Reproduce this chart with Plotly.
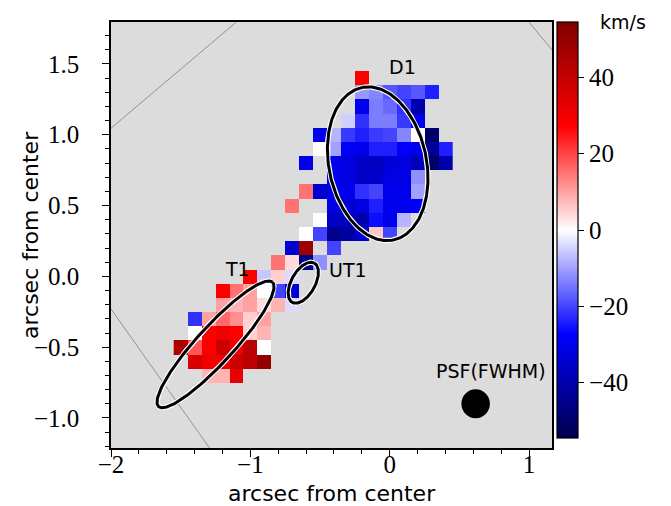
import numpy as np
import plotly.graph_objects as go

# ---------------- data ----------------
cols = [-1.5, -1.4, -1.3, -1.2, -1.1, -1.0, -0.9, -0.8, -0.7, -0.6, -0.5,
        -0.4, -0.3, -0.2, -0.1, 0.0, 0.1, 0.2, 0.3, 0.4]
rows = [1.4, 1.3, 1.2, 1.1, 1.0, 0.9, 0.8, 0.7, 0.6, 0.5, 0.4, 0.3, 0.2,
        0.1, 0.0, -0.1, -0.2, -0.3, -0.4, -0.5, -0.6, -0.7]
N = None
#           -1.5 -1.4 -1.3 -1.2 -1.1 -1.0 -0.9 -0.8 -0.7 -0.6 -0.5 -0.4 -0.3 -0.2 -0.1  0.0  0.1  0.2  0.3  0.4
v_r1p4  = [N, N, N, N, N, N, N, N, N, N, N, N, N, 28, N, N, N, N, N, N]
v_r1p3  = [N, N, N, N, N, N, N, N, N, N, N, N, N, -11, -13, -18, -20, -18, -24, N]
v_r1p2  = [N, N, N, N, N, N, N, N, N, N, N, N, N, -30, -14, -16, -22, -40, N, N]
v_r1p1  = [N, N, N, N, N, N, N, N, N, N, N, N, -5, -22, -14, -14, -21, -30, N, N]
v_r1p0  = [N, N, N, N, N, N, N, N, N, N, -30, -8, -21, -24, -21, -20, -13, 0, -50, N]
v_r0p9  = [N, N, N, N, N, N, N, N, N, N, 0, -10, -29, -30, -24, -24, -28, -30, -44, -24]
v_r0p8  = [N, N, N, N, N, N, N, N, N, -30, N, -30, -32, -36, -37, -33, -32, -38, -50, -40]
v_r0p7  = [N, N, N, N, N, N, N, N, N, N, N, -30, -32, -36, -35, -32, -31, -12, N, N]
v_r0p6  = [N, N, N, N, N, N, N, N, N, 15, -34, -31, -30, -22, -20, -30, -30, -10, N, N]
v_r0p5  = [N, N, N, N, N, N, N, N, 15, N, N, -32, -34, -32, -24, -30, -30, -28, N, N]
v_r0p4  = [N, N, N, N, N, N, N, N, N, N, 0, -36, -37, -40, -26, -30, -8, N, N, N]
v_r0p3  = [N, N, N, N, N, N, N, N, N, 0, -20, -45, -42, -34, 6, -20, N, N, N, N]
v_r0p2  = [N, N, N, N, N, N, N, N, -34, 48, N, -20, N, N, N, N, N, N, N, N]
v_r0p1  = [N, N, N, N, N, N, N, 15, 4, -46, -12, N, N, N, N, N, N, N, N, N]
v_r0p0  = [N, N, N, N, N, 28, -6, 5, -4, N, N, N, N, N, N, N, N, N, N, N]
v_rm0p1 = [N, N, N, 28, 15, 10, 0, -20, -34, N, N, N, N, N, N, N, N, N, N, N]
v_rm0p2 = [N, N, N, 10, 8, 10, 4, 8, -4, N, N, N, N, N, N, N, N, N, N, N]
v_rm0p3 = [N, -22, 10, 16, 12, 5, 10, N, N, N, N, N, N, N, N, N, N, N, N, N]
v_rm0p4 = [N, 0, 28, 30, 28, 5, 8, N, N, N, N, N, N, N, N, N, N, N, N, N]
v_rm0p5 = [45, 18, 28, 38, 30, 42, 0, N, N, N, N, N, N, N, N, N, N, N, N, N]
v_rm0p6 = [N, 35, 30, 30, 38, 42, 50, N, N, N, N, N, N, N, N, N, N, N, N, N]
v_rm0p7 = [N, N, 8, 8, 32, N, N, N, N, N, N, N, N, N, N, N, N, N, N, N]
velocity = [v_r1p4, v_r1p3, v_r1p2, v_r1p1, v_r1p0, v_r0p9, v_r0p8, v_r0p7,
            v_r0p6, v_r0p5, v_r0p4, v_r0p3, v_r0p2, v_r0p1, v_r0p0, v_rm0p1,
            v_rm0p2, v_rm0p3, v_rm0p4, v_rm0p5, v_rm0p6, v_rm0p7]

vmin, vmax = -54.5, 54.5
cbar_ticks = [-40, -20, 0, 20, 40]
x_ticks = [-2, -1, 0, 1]
y_ticks = [-1.0, -0.5, 0.0, 0.5, 1.0, 1.5]
x_range = [-2.0, 1.165]
y_range = [-1.212, 1.796]
axis_title = "arcsec from center"
cbar_unit = "km/s"

# ellipses: name, cx, cy, semi-major, semi-minor, angle of major axis (deg from +x)
ell_names = ["D1", "T1", "UT1"]
ell_cx = [-0.086, -1.25, -0.62]
ell_cy = [0.795, -0.48, -0.045]
ell_a = [0.55, 0.60, 0.16]
ell_b = [0.35, 0.13, 0.085]
ell_ang = [102, 47, 60]
label_x = [0.09, -1.09, -0.30]
label_y = [1.475, 0.05, 0.045]

psf_label = "PSF(FWHM)"
psf_cx, psf_cy, psf_r = 0.617, -0.90, 0.102
psf_label_xy = (0.725, -0.665)

# field-of-view edge lines (pairs of points)
fov_x = [[-2.2, -0.9], [-2.2, -1.1], [0.9, 1.3]]
fov_y = [[0.879, 1.963], [0.047, -1.480], [1.914, 1.438]]

# ---------------- figure ----------------
seismic = [[0.0, "rgb(0,0,77)"], [0.25, "rgb(0,0,255)"], [0.5, "rgb(255,255,255)"],
           [0.75, "rgb(255,0,0)"], [1.0, "rgb(128,0,0)"]]

def fmt(v, nd):
    s = f"{abs(v):.{nd}f}"
    return ("\u2212" + s) if v < 0 else s

TICKFONT = dict(family="Liberation Serif", size=25, color="black")
TEXTFONT = dict(family="DejaVu Sans", size=19, color="black")
TITLEFONT = dict(family="DejaVu Sans", size=22, color="black")

fig = go.Figure()
fig.add_trace(go.Heatmap(
    x=cols, y=rows, z=velocity, colorscale=seismic, zmin=vmin, zmax=vmax,
    hoverongaps=False,
    colorbar=dict(
        x=1.0113, xanchor="left", xref="paper", y=1.0, yanchor="top",
        xpad=0, ypad=0,
        len=416, lenmode="pixels", thickness=21, thicknessmode="pixels",
        outlinecolor="black", outlinewidth=1.2,
        tickvals=cbar_ticks, ticktext=[fmt(t, 0) for t in cbar_ticks],
        ticks="outside", ticklen=6, tickwidth=1.2, tickcolor="black",
        tickfont=TICKFONT,
    ),
))

for gx, gy in zip(fov_x, fov_y):
    fig.add_trace(go.Scatter(x=gx, y=gy, mode="lines", line=dict(color="gray", width=0.8),
                             hoverinfo="skip", showlegend=False))

t = np.linspace(0, 2 * np.pi, 240)
for cx, cy, a, b, ang in zip(ell_cx, ell_cy, ell_a, ell_b, ell_ang):
    th = np.deg2rad(ang)
    ex = cx + a * np.cos(t) * np.cos(th) - b * np.sin(t) * np.sin(th)
    ey = cy + a * np.cos(t) * np.sin(th) + b * np.sin(t) * np.cos(th)
    fig.add_trace(go.Scatter(x=ex, y=ey, mode="lines", line=dict(color="white", width=5.2),
                             hoverinfo="skip", showlegend=False))
    fig.add_trace(go.Scatter(x=ex, y=ey, mode="lines", line=dict(color="black", width=3),
                             hoverinfo="skip", showlegend=False))

for name, lx, ly in zip(ell_names, label_x, label_y):
    fig.add_annotation(x=lx, y=ly, text=name, showarrow=False, font=TEXTFONT)

fig.add_annotation(x=psf_label_xy[0], y=psf_label_xy[1], text=psf_label, showarrow=False,
                   font=TEXTFONT)
fig.add_shape(type="circle", xref="x", yref="y",
              x0=psf_cx - psf_r, x1=psf_cx + psf_r, y0=psf_cy - psf_r, y1=psf_cy + psf_r,
              fillcolor="black", line=dict(color="black", width=0))

fig.add_annotation(xref="paper", yref="paper", x=1.105, y=1.0, xanchor="left", yanchor="middle",
                   text=cbar_unit, showarrow=False, font=TEXTFONT)

# axis titles
fig.add_annotation(xref="paper", yref="paper", x=0.5, y=0, yanchor="middle", yshift=-45,
                   text=axis_title, showarrow=False, font=TITLEFONT)
fig.add_annotation(xref="paper", yref="paper", x=0, y=0.5, xanchor="center", xshift=-81,
                   textangle=-90, text=axis_title, showarrow=False, font=TITLEFONT)

axis_common = dict(showgrid=False, zeroline=False, showline=True, linecolor="black",
                   linewidth=1.5, mirror=True, ticks="outside", ticklen=7, tickwidth=1.3,
                   tickcolor="black", automargin=False, tickfont=TICKFONT)

fig.update_xaxes(range=x_range, tickvals=x_ticks, ticktext=[fmt(v, 0) for v in x_ticks],
                 minor=dict(dtick=0.2, tick0=0, ticks="outside", ticklen=4, tickcolor="black"),
                 ticklabelstandoff=-14, **axis_common)
fig.update_yaxes(range=y_range, tickvals=y_ticks, ticktext=[fmt(v, 1) for v in y_ticks],
                 minor=dict(dtick=0.1, tick0=0, ticks="outside", ticklen=4, tickcolor="black"),
                 ticklabelstandoff=18, **axis_common)

fig.update_layout(width=671, height=506, margin=dict(l=111, r=119, t=22, b=58),
                  plot_bgcolor="#dcdcdc", paper_bgcolor="white", showlegend=False)

fig.write_html("out.html")
